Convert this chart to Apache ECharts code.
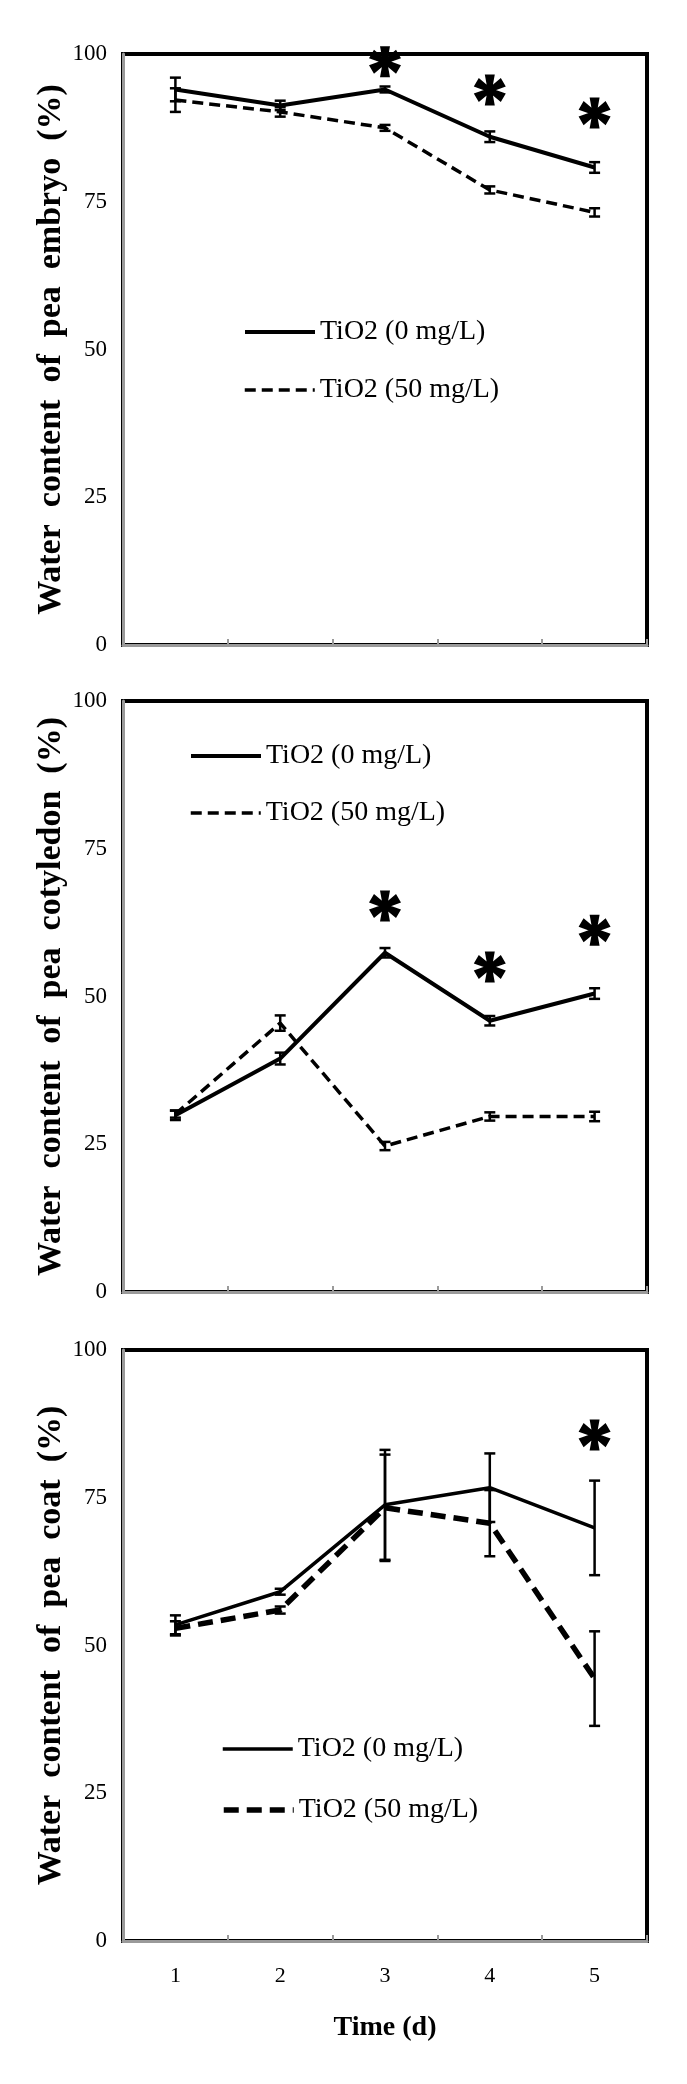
<!DOCTYPE html>
<html>
<head>
<meta charset="utf-8">
<script src="https://cdn.jsdelivr.net/npm/echarts@6/dist/echarts.min.js"></script>
<style>
html,body{margin:0;padding:0;background:#fff;}
#chart{width:687px;height:2084px;}
</style>
</head>
<body>
<div id="chart"></div>
<script>
// ---------- data ----------
const days = ['1', '2', '3', '4', '5'];
const yTicks = [0, 25, 50, 75, 100];
const legendNames = ['TiO2 (0 mg/L)', 'TiO2 (50 mg/L)'];
const yTitles = [
  'Water  content  of  pea  embryo  (%)',
  'Water  content  of  pea  cotyledon  (%)',
  'Water  content  of  pea  coat  (%)'
];
const xTitle = 'Time (d)';

// Embryo
const embryoCtrl = [94.0, 91.3, 94.0, 86.0, 80.8];
const embryoCtrlErr = [2.0, 0.8, 0.5, 0.9, 0.9];
const embryoTi = [92.2, 90.2, 87.5, 77.0, 73.2];
const embryoTiErr = [2.0, 0.8, 0.5, 0.6, 0.7];
const embryoStars = [[2, 98.7], [3, 93.9], [4, 90.0]];

// Cotyledon
const cotCtrl = [29.9, 39.5, 57.4, 45.9, 50.5];
const cotCtrlErr = [0.8, 1.0, 0.8, 0.8, 0.9];
const cotTi = [30.1, 45.5, 24.7, 29.7, 29.7];
const cotTiErr = [0.6, 1.3, 0.7, 0.7, 0.8];
const cotStars = [[2, 65.3], [3, 55.0], [4, 61.2]];

// Coat
const coatCtrl = [53.5, 59.1, 73.8, 76.7, 69.9];
const coatCtrlErr = [1.6, 0.5, 9.3, 5.8, 8.0];
const coatTi = [52.9, 56.0, 73.3, 70.7, 44.4];
const coatTiErr = [1.2, 0.6, 9.0, 5.6, 8.0];
const coatStars = [[4, 85.6]];

// ---------- styling / layout ----------
const FONT = "'Liberation Serif', 'Times New Roman', serif";
const grids = [
  {left: 123, right: 40, top: 54, height: 591},
  {left: 123, right: 40, top: 701, height: 591},
  {left: 123, right: 40, top: 1350, height: 591}
];
const panels = [
  {ctrl: embryoCtrl, ctrlErr: embryoCtrlErr, ti: embryoTi, tiErr: embryoTiErr, stars: embryoStars,
   dash: [11, 6], dashW: 3.5, solidW: 4, legend: [{left: 243, top: 317}, {left: 243, top: 375}]},
  {ctrl: cotCtrl, ctrlErr: cotCtrlErr, ti: cotTi, tiErr: cotTiErr, stars: cotStars,
   dash: [11, 6], dashW: 3.5, solidW: 4, legend: [{left: 189, top: 741}, {left: 189, top: 798}]},
  {ctrl: coatCtrl, ctrlErr: coatCtrlErr, ti: coatTi, tiErr: coatTiErr, stars: coatStars,
   dash: [15, 8], dashW: 5.5, solidW: 3.5, legend: [{left: 221, top: 1734}, {left: 221, top: 1795}]}
];

function asteriskPath() {
  const R = 50, a = 7, b = 16;
  let d = '';
  for (let k = 0; k < 6; k++) {
    const t = k * Math.PI / 3;
    const ux = Math.sin(t), uy = -Math.cos(t), px = Math.cos(t), py = Math.sin(t);
    const pts = [
      [50 - a * px, 50 - a * py],
      [50 + a * px, 50 + a * py],
      [50 + R * ux + b * px, 50 + R * uy + b * py],
      [50 + R * ux - b * px, 50 + R * uy - b * py]
    ];
    d += 'M' + pts.map(p => p[0].toFixed(2) + ' ' + p[1].toFixed(2)).join(' L') + ' Z ';
  }
  return 'path://' + d;
}
const STAR = asteriskPath();

function errItem(params, api) {
  const x = api.value(0), lo = api.value(1), hi = api.value(2);
  const p1 = api.coord([x, hi]), p2 = api.coord([x, lo]);
  const w = 5.5;
  const st = {stroke: '#000', lineWidth: 2.5};
  return {type: 'group', children: [
    {type: 'line', shape: {x1: p1[0], y1: p1[1], x2: p2[0], y2: p2[1]}, style: st},
    {type: 'line', shape: {x1: p1[0] - w, y1: p1[1], x2: p1[0] + w, y2: p1[1]}, style: st},
    {type: 'line', shape: {x1: p2[0] - w, y1: p2[1], x2: p2[0] + w, y2: p2[1]}, style: st}
  ]};
}
function errData(mean, err) {
  return mean.map((m, i) => [i, m - err[i], m + err[i]]);
}

const xAxes = [], yAxes = [], series = [], legends = [];
panels.forEach((p, i) => {
  const last = i === 2;
  xAxes.push({
    type: 'category', gridIndex: i, data: days, boundaryGap: true,
    axisLine: {lineStyle: {color: '#9a9a9a', width: 3}},
    axisTick: {show: true, inside: true, length: 6, lineStyle: {color: '#9a9a9a', width: 2}},
    axisLabel: {show: last, color: '#000', fontFamily: FONT, fontSize: 22, margin: 24},
    name: last ? xTitle : '', nameLocation: 'middle', nameGap: 73, nameMoveOverlap: false,
    nameTextStyle: {color: '#000', fontFamily: FONT, fontWeight: 'bold', fontSize: 28}
  });
  yAxes.push({
    type: 'value', gridIndex: i, min: yTicks[0], max: yTicks[yTicks.length - 1], interval: 25,
    splitLine: {show: false},
    axisLine: {show: true, lineStyle: {color: '#9a9a9a', width: 3}},
    axisTick: {show: false},
    axisLabel: {color: '#000', fontFamily: FONT, fontSize: 23, margin: 16},
    name: yTitles[i], nameLocation: 'middle', nameGap: 55, nameMoveOverlap: false,
    nameTextStyle: {color: '#000', fontFamily: FONT, fontWeight: 'bold', fontSize: 34}
  });
  series.push({
    type: 'line', name: legendNames[0], xAxisIndex: i, yAxisIndex: i, data: p.ctrl,
    symbol: 'none', lineStyle: {color: '#000', width: p.solidW, type: 'solid'}, z: 3
  });
  series.push({
    type: 'line', name: legendNames[1], xAxisIndex: i, yAxisIndex: i, data: p.ti,
    symbol: 'none', lineStyle: {color: '#000', width: p.dashW, type: p.dash}, z: 3
  });
  series.push({
    type: 'custom', xAxisIndex: i, yAxisIndex: i, renderItem: errItem,
    data: errData(p.ctrl, p.ctrlErr), z: 4
  });
  series.push({
    type: 'custom', xAxisIndex: i, yAxisIndex: i, renderItem: errItem,
    data: errData(p.ti, p.tiErr), z: 4
  });
  series.push({
    type: 'scatter', xAxisIndex: i, yAxisIndex: i, data: p.stars,
    symbol: STAR, symbolSize: [32, 31], itemStyle: {color: '#000', opacity: 1}, z: 5
  });
  [0, 1].forEach(k => {
    legends.push({
      left: p.legend[k].left, top: p.legend[k].top, orient: 'vertical', padding: 0,
      itemWidth: 70, itemHeight: 30, selectedMode: false,
      itemStyle: {opacity: 0},
      textStyle: {color: '#000', fontFamily: FONT, fontSize: 28, lineHeight: 30},
      data: [{
        name: legendNames[k],
        itemStyle: {opacity: 0},
        lineStyle: k === 0
          ? {color: '#000', width: p.solidW, type: 'solid'}
          : {color: '#000', width: p.dashW, type: p.dash}
      }]
    });
  });
});

const chart = echarts.init(document.getElementById('chart'), null, {renderer: 'canvas'});
chart.setOption({
  animation: false,
  backgroundColor: '#fff',
  grid: grids.map(g => Object.assign({show: true, borderColor: '#000', borderWidth: 4, backgroundColor: 'transparent'}, g)),
  xAxis: xAxes,
  yAxis: yAxes,
  legend: legends,
  series: series
});
</script>
</body>
</html>
